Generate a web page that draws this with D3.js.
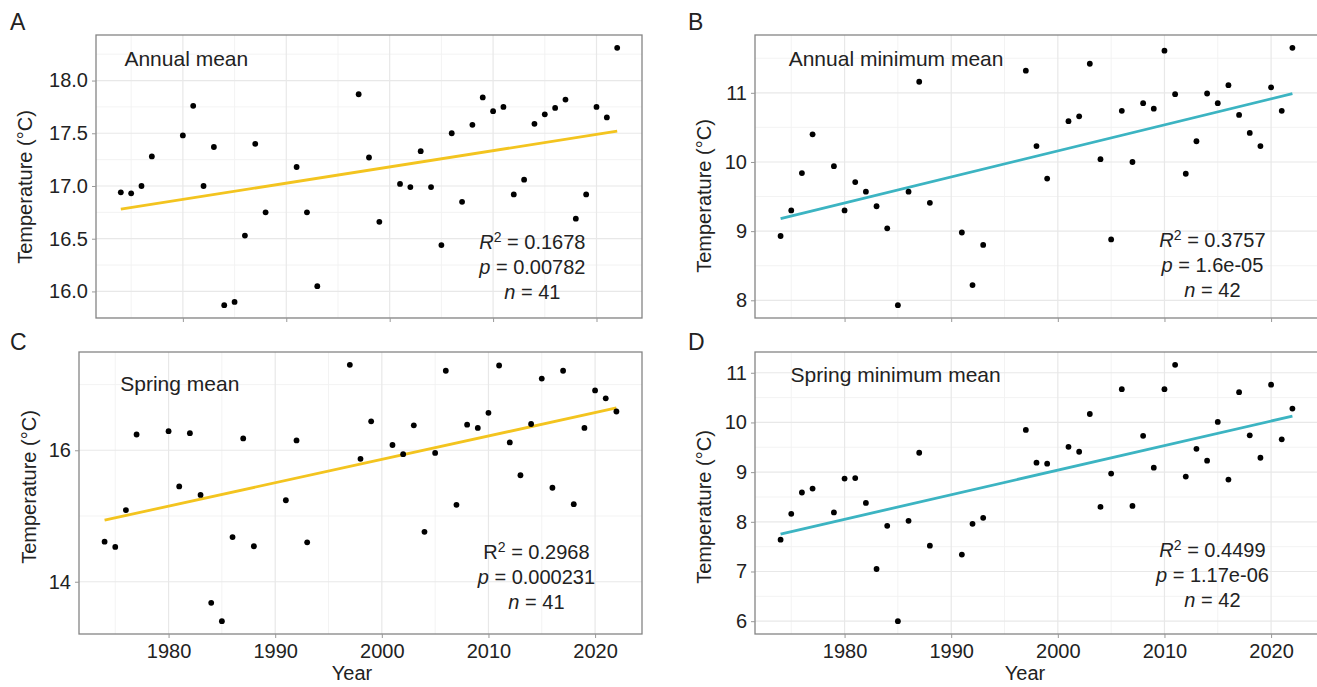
<!DOCTYPE html>
<html>
<head>
<meta charset="utf-8">
<script src="https://cdn.jsdelivr.net/npm/d3@7"></script>
<style>
  body { margin: 0; background: #fff; }
  svg { font-family: "Liberation Sans", Arial, Helvetica, sans-serif; }
</style>
</head>
<body>
<svg id="chart" width="1317" height="687"></svg>
<script>
// years for panels A and C (no 1979), and B and D (with 1979)
const yearsAC = [1974, 1975, 1976, 1977, 1980, 1981, 1982, 1983, 1984, 1985, 1986, 1987, 1988,
  1991, 1992, 1993, 1997, 1998, 1999, 2001, 2002, 2003, 2004, 2005, 2006, 2007, 2008, 2009,
  2010, 2011, 2012, 2013, 2014, 2015, 2016, 2017, 2018, 2019, 2020, 2021, 2022];
const yearsBD = [1974, 1975, 1976, 1977, 1979, 1980, 1981, 1982, 1983, 1984, 1985, 1986, 1987, 1988,
  1991, 1992, 1993, 1997, 1998, 1999, 2001, 2002, 2003, 2004, 2005, 2006, 2007, 2008, 2009,
  2010, 2011, 2012, 2013, 2014, 2015, 2016, 2017, 2018, 2019, 2020, 2021, 2022];

const annualMean = [16.94, 16.93, 17.00, 17.28, 17.48, 17.76, 17.00, 17.37, 15.87, 15.90, 16.53, 17.40, 16.75,
  17.18, 16.75, 16.05, 17.87, 17.27, 16.66, 17.02, 16.99, 17.33, 16.99, 16.44, 17.50, 16.85, 17.58, 17.84,
  17.71, 17.75, 16.92, 17.06, 17.59, 17.68, 17.74, 17.82, 16.69, 16.92, 17.75, 17.65, 18.31];
const annualMin = [8.93, 9.30, 9.84, 10.40, 9.94, 9.30, 9.71, 9.57, 9.36, 9.04, 7.93, 9.57, 11.16, 9.41,
  8.98, 8.22, 8.80, 11.32, 10.23, 9.76, 10.59, 10.66, 11.42, 10.04, 8.88, 10.74, 10.00, 10.85, 10.77,
  11.61, 10.98, 9.83, 10.30, 10.99, 10.85, 11.11, 10.68, 10.42, 10.23, 11.08, 10.74, 11.65];
const springMean = [14.61, 14.53, 15.09, 16.24, 16.29, 15.45, 16.26, 15.32, 13.68, 13.40, 14.68, 16.18, 14.54,
  15.24, 16.15, 14.60, 17.30, 15.87, 16.44, 16.08, 15.94, 16.38, 14.76, 15.96, 17.21, 15.17, 16.39, 16.34,
  16.57, 17.29, 16.12, 15.62, 16.40, 17.09, 15.43, 17.21, 15.18, 16.34, 16.91, 16.79, 16.59];
const springMin = [7.64, 8.16, 8.59, 8.67, 8.19, 8.87, 8.88, 8.38, 7.05, 7.92, 6.00, 8.02, 9.39, 7.52,
  7.34, 7.96, 8.08, 9.85, 9.19, 9.17, 9.51, 9.41, 10.17, 8.30, 8.97, 10.67, 8.32, 9.73, 9.09,
  10.67, 11.16, 8.91, 9.47, 9.23, 10.01, 8.85, 10.61, 9.74, 9.29, 10.76, 9.66, 10.28];

const panelLetters = ["A", "B", "C", "D"];
const panelTitles = ["Annual mean", "Annual minimum mean", "Spring mean", "Spring minimum mean"];
const r2Values = ["0.1678", "0.3757", "0.2968", "0.4499"];
const pValues = ["0.00782", "1.6e-05", "0.000231", "1.17e-06"];
const nValues = ["41", "42", "41", "42"];
const r2Italic = [true, true, false, true];

const xTicks = [1980, 1990, 2000, 2010, 2020];
const yTicksA = [16.0, 16.5, 17.0, 17.5, 18.0];
const yTicksB = [8, 9, 10, 11];
const yTicksC = [14, 16];
const yTicksD = [6, 7, 8, 9, 10, 11];

const yellow = "#f3c41f", teal = "#3cb4c2";

const panels = [
  { years: yearsAC, values: annualMean, yTicks: yTicksA, fmt: d3.format(".1f"), color: yellow,
    box: { left: 96, right: 642, top: 35, bottom: 318 }, showX: false,
    title: [1974.35, 18.136], stats: [2013.8, 16.164], yTitle: [24.5, 187] },
  { years: yearsBD, values: annualMin, yTicks: yTicksB, fmt: d3.format("d"), color: teal,
    box: { left: 755, right: 1318, top: 35, bottom: 318 }, showX: false,
    title: [1974.76, 11.394], stats: [2014.5, 8.41], yTitle: [704, 196] },
  { years: yearsAC, values: springMean, yTicks: yTicksC, fmt: d3.format("d"), color: yellow,
    box: { left: 79, right: 642, top: 352, bottom: 634 }, showX: true,
    title: [1975.47, 16.907], stats: [2014.5, 13.96], yTitle: [29, 487], xTitle: 352 },
  { years: yearsBD, values: springMin, yTicks: yTicksD, fmt: d3.format("d"), color: teal,
    box: { left: 755, right: 1318, top: 352, bottom: 634 }, showX: true,
    title: [1974.94, 10.81], stats: [2014.5, 6.78], yTitle: [704, 507], xTitle: 1025 }
];

const svg = d3.select("#chart");

// ggplot style 5% expansion
function expand(ext) {
  const pad = (ext[1] - ext[0]) * 0.05;
  return [ext[0] - pad, ext[1] + pad];
}

function linFit(xs, ys) {
  const mx = d3.mean(xs), my = d3.mean(ys);
  let sxy = 0, sxx = 0;
  xs.forEach((x, i) => { sxy += (x - mx) * (ys[i] - my); sxx += (x - mx) * (x - mx); });
  const b = sxy / sxx;
  return x => my + b * (x - mx);
}

panels.forEach((p, i) => {
  const b = p.box;
  const x = d3.scaleLinear().domain(expand(d3.extent(p.years))).range([b.left, b.right]);
  const y = d3.scaleLinear().domain(expand(d3.extent(p.values))).range([b.bottom, b.top]);
  const g = svg.append("g");

  // minor breaks halfway between majors
  const step = p.yTicks[1] - p.yTicks[0];
  const yMinor = [p.yTicks[0] - step / 2].concat(p.yTicks.map(t => t + step / 2))
    .filter(t => t > y.domain()[0] && t < y.domain()[1]);
  const xMinor = [1975, 1985, 1995, 2005, 2015];

  const grid = g.append("g");
  grid.selectAll(".ymin").data(yMinor).join("line")
    .attr("x1", b.left).attr("x2", b.right).attr("y1", d => y(d)).attr("y2", d => y(d))
    .attr("stroke", "#f2f2f2").attr("stroke-width", 0.9);
  grid.selectAll(".xmin").data(xMinor).join("line")
    .attr("y1", b.top).attr("y2", b.bottom).attr("x1", d => x(d)).attr("x2", d => x(d))
    .attr("stroke", "#f2f2f2").attr("stroke-width", 0.9);
  grid.selectAll(".ymaj").data(p.yTicks).join("line")
    .attr("x1", b.left).attr("x2", b.right).attr("y1", d => y(d)).attr("y2", d => y(d))
    .attr("stroke", "#e8e8e8").attr("stroke-width", 1.2);
  grid.selectAll(".xmaj").data(xTicks).join("line")
    .attr("y1", b.top).attr("y2", b.bottom).attr("x1", d => x(d)).attr("x2", d => x(d))
    .attr("stroke", "#e8e8e8").attr("stroke-width", 1.2);

  // regression line
  const fit = linFit(p.years, p.values);
  const x0 = d3.min(p.years), x1 = d3.max(p.years);
  g.append("line")
    .attr("x1", x(x0)).attr("y1", y(fit(x0))).attr("x2", x(x1)).attr("y2", y(fit(x1)))
    .attr("stroke", p.color).attr("stroke-width", 2.8);

  // points
  g.selectAll("circle").data(p.years).join("circle")
    .attr("cx", d => x(d)).attr("cy", (d, k) => y(p.values[k]))
    .attr("r", 2.9).attr("fill", "#000");

  // border
  g.append("rect")
    .attr("x", b.left).attr("y", b.top).attr("width", b.right - b.left).attr("height", b.bottom - b.top)
    .attr("fill", "none").attr("stroke", "#858585").attr("stroke-width", 1.3);

  // axes
  const yAxis = g.append("g").attr("transform", `translate(${b.left},0)`)
    .call(d3.axisLeft(y).tickValues(p.yTicks).tickFormat(p.fmt).tickSize(4).tickPadding(4));
  const xAxis = g.append("g").attr("transform", `translate(0,${b.bottom})`)
    .call(d3.axisBottom(x).tickValues(xTicks).tickSize(4).tickPadding(6)
      .tickFormat(p.showX ? d3.format("d") : () => ""));
  [yAxis, xAxis].forEach(a => {
    a.select(".domain").remove();
    a.selectAll(".tick line").attr("stroke", "#999");
    a.selectAll(".tick text").attr("fill", "#222").style("font-size", "20px")
      .style("font-family", "'Liberation Sans', Arial, sans-serif");
  });

  // panel letter
  g.append("text").attr("x", i % 2 === 0 ? 10 : 688).attr("y", i < 2 ? 30 : 350)
    .attr("font-size", 23).attr("fill", "#222").text(panelLetters[i]);

  // panel title
  g.append("text").attr("x", x(p.title[0])).attr("y", y(p.title[1]))
    .attr("font-size", 21).attr("fill", "#222").text(panelTitles[i]);

  // y title
  g.append("text")
    .attr("transform", `translate(${p.yTitle[0]},${p.yTitle[1]}) rotate(-90)`)
    .attr("text-anchor", "middle").attr("dy", "0.35em")
    .attr("font-size", 20).attr("fill", "#222").text("Temperature (\u00b0C)");

  if (p.showX) {
    g.append("text").attr("x", p.xTitle).attr("y", 680).attr("text-anchor", "middle")
      .attr("font-size", 20).attr("fill", "#222").text("Year");
  }

  // stats annotation
  const sx = x(p.stats[0]), sy = y(p.stats[1]);
  const st = g.append("g").attr("font-size", 20).attr("fill", "#222").attr("text-anchor", "middle");
  const l1 = st.append("text").attr("x", sx).attr("y", sy - 25);
  l1.append("tspan").attr("font-style", r2Italic[i] ? "italic" : "normal").text("R");
  l1.append("tspan").attr("font-size", 14).attr("dy", -7).text("2");
  l1.append("tspan").attr("dy", 7).text(" = " + r2Values[i]);
  const l2 = st.append("text").attr("x", sx).attr("y", sy);
  l2.append("tspan").attr("font-style", "italic").text("p");
  l2.append("tspan").text(" = " + pValues[i]);
  const l3 = st.append("text").attr("x", sx).attr("y", sy + 25);
  l3.append("tspan").attr("font-style", "italic").text("n");
  l3.append("tspan").text(" = " + nValues[i]);
});
</script>
</body>
</html>
